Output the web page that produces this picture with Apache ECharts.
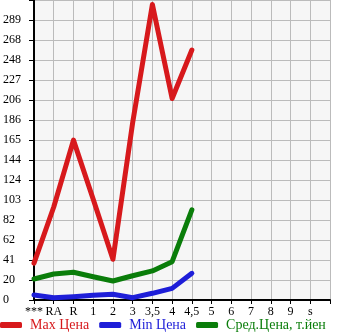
<!DOCTYPE html>
<html>
<head>
<meta charset="utf-8">
<script src="https://cdn.jsdelivr.net/npm/echarts@6/dist/echarts.min.js"></script>
<style>
  html, body { margin: 0; padding: 0; background: #fff; }
  #chart { width: 345px; height: 335px; }
</style>
</head>
<body>
<div id="chart"></div>
<script>
var myChart = echarts.init(document.getElementById('chart'));

// categories (engine size / grade) along the bottom
const categories = ['***', 'RA', 'R', '1', '2', '3', '3,5', '4', '4,5', '5', '6', '7', '8', '9', 's', ''];

// prices, thousands of yen
const maxPrice = [38, 96, 165, 104, 42, 183, 305, 208, 258];
const minPrice = [5.2, 2.4, 3.4, 4.8, 5.9, 2.4, 6.9, 12, 27.5];
const avgPrice = [21.7, 26.8, 28.6, 24, 19.6, 25, 30, 39.5, 93];

// y tick labels as printed on the original
const yLabels = ['0', '20', '41', '62', '82', '103', '124', '144', '165', '186', '206', '227', '248', '268', '289', ''];
const yStep = 20.64;

const labelFont = 'Liberation Serif';

var option = {
    animation: false,
    grid: {
        left: 31,
        right: 15,
        top: 0,
        bottom: 35,
        show: true,
        backgroundColor: '#f6f6f6',
        borderWidth: 0
    },
    legend: {
        left: 0,
        top: 318,
        padding: [0, 0, 0, 0],
        itemWidth: 22,
        itemHeight: 6,
        itemGap: 10,
        icon: 'roundRect',
        textStyle: {fontFamily: labelFont, fontSize: 14, padding: [0, 0, 0, 3]},
        data: [
            {name: 'Max Цена', textStyle: {color: '#d7191c'}},
            {name: 'Min Цена', textStyle: {color: '#1e1ed8'}},
            {name: 'Сред.Цена, т.йен', textStyle: {color: '#0a7d0a'}}
        ]
    },
    xAxis: {
        type: 'category',
        boundaryGap: false,
        data: categories,
        axisLine: {lineStyle: {color: '#000', width: 2}},
        axisTick: {show: true, length: 4, lineStyle: {color: '#000'}},
        axisLabel: {
            interval: 0,
            margin: 6,
            color: '#000',
            fontFamily: labelFont,
            fontSize: 12
        },
        splitLine: {show: true, lineStyle: {color: '#bbbbbb', width: 1}}
    },
    yAxis: {
        type: 'value',
        min: 0,
        max: yStep * 15,
        interval: yStep,
        axisLine: {show: true, lineStyle: {color: '#000', width: 2}},
        axisTick: {show: true, length: 5, lineStyle: {color: '#000'}},
        axisLabel: {
            margin: 31,
            align: 'left',
            color: '#000',
            fontFamily: labelFont,
            fontSize: 12,
            padding: [0, 0, 7, 0],
            formatter: function (v) {
                return yLabels[Math.round(v / yStep)] || '';
            }
        },
        splitLine: {show: true, lineStyle: {color: '#bbbbbb', width: 1}}
    },
    series: [
        {
            name: 'Max Цена',
            type: 'line',
            data: maxPrice,
            symbol: 'none',
            itemStyle: {color: '#d7191c'},
            lineStyle: {width: 5, cap: 'round', join: 'round'}
        },
        {
            name: 'Min Цена',
            type: 'line',
            data: minPrice,
            symbol: 'none',
            itemStyle: {color: '#1e1ed8'},
            lineStyle: {width: 5, cap: 'round', join: 'round'}
        },
        {
            name: 'Сред.Цена, т.йен',
            type: 'line',
            data: avgPrice,
            symbol: 'none',
            itemStyle: {color: '#0a7d0a'},
            lineStyle: {width: 5, cap: 'round', join: 'round'}
        }
    ]
};

myChart.setOption(option);
</script>
</body>
</html>
